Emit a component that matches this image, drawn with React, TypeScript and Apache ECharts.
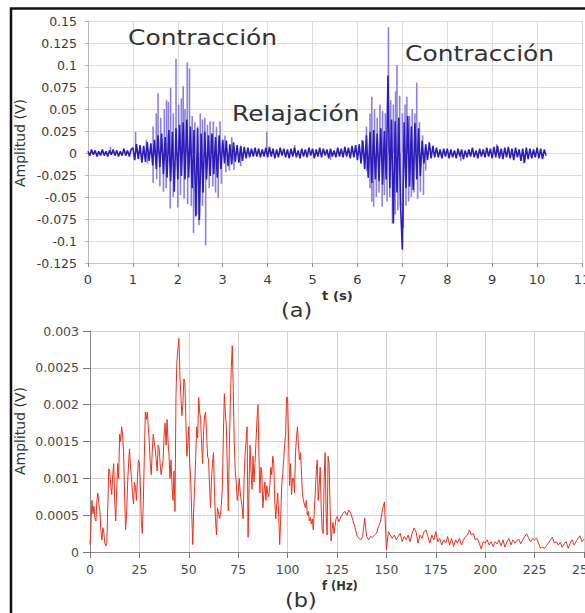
import { useEffect, useRef } from "react";
import * as echarts from "echarts";

const FONT = "DejaVu Sans";

// (a) EMG signal: sample interval in seconds, core trace values in mV
const DT = 0.04;
const emgCoreMv = [
  2, -3, 4, -2, 3, -4, 2, -3, 4, -3, 2, -4, 3, -2, 4, -3, 3, -4, 2, -3, 5, -3, 3, -4, 4,
  6, -8, 10, -7, 9, -11, 8, -10, 12, -9, 11, -14, 15, -18, 20, -16, 22, -24, 18, -28, 26, -32, 24, -44, 28,
  -30, 32, -26, 35, -30, 38, -28, 30, -40, 26, -72, 28, -76, 22, -45, 24, -30, 20, -26, 22, -24, 18, -28, 20, -18,
  15, -12, 14, -15, 10, -13, 12, -10, 9, -11, 8, -9, 7, -6, 6, -5, 5, -4, 6, -4, 5, -5, 4, -4, 6,
  -5, 7, -4, 5, -6, 4, -5, 6, -3, 5, -5, 4, -6, 5, -4, 6, -5, 3, -6, 5, -4, 4, -5, 6, -3,
  5, -6, 4, -4, 6, -5, 5, -3, 4, -6, 5, -4, 3, -5, 6, -4, 5, -5, 7, -4, 6, -6, 8, -5, 9,
  -8, 10, -12, 14, -18, 20, -28, 24, -34, 26, -30, 22, -32, 28, -36, 25, -30, 88, -40, 38, -80, 36, -45, 40, -60,
  -110, 35, -40, 42, -38, 30, -42, 34, -30, 28, -26, 14, -12, 10, -8, 12, -6, 8, -5, 6, -5, 4, -6, 5, -4,
  5, -6, 4, -5, 3, -6, 5, -4, 4, -7, 3, -5, 4, -4, 6, -5, 3, -6, 5, -4, 4, -5, 6, -4, 5,
  -6, 7, -5, 8, -6, 5, -7, 6, -5, 7, -6, 5, -8, 6, -5, 4, -9, 5, -11, 6, -7, 5, -6, 4, -5,
  6, -6, 5, -7, 4, -3,
];

// (a) lighter individual spikes: time (s) and peak (mV)
const spikeTimes = [
  0.5, 1.06, 1.3, 1.45, 1.52, 1.56, 1.62, 1.7, 1.75, 1.79, 1.84, 1.9, 1.96, 2.02, 2.08, 2.12, 2.16, 2.21, 2.26,
  2.32, 2.38, 2.44, 2.5, 2.55, 2.6, 2.66, 2.72, 2.79, 2.86, 2.94, 3.05, 3.2, 3.98,
  1.32, 1.45, 1.53, 1.6, 1.68, 1.74, 1.83, 1.9, 2.0, 2.06, 2.14, 2.22, 2.3, 2.35, 2.42, 2.47, 2.55, 2.62,
  2.7, 2.78, 2.84, 2.9, 2.97, 3.07, 3.15, 3.25, 3.4, 4.6, 5.4,
  6.1, 6.2, 6.28, 6.32, 6.38, 6.44, 6.5, 6.56, 6.62, 6.69, 6.74, 6.8, 6.85, 6.88, 6.94, 7.0, 7.06, 7.1,
  7.16, 7.22, 7.28, 7.32, 7.38, 7.45,
  6.2, 6.28, 6.32, 6.36, 6.42, 6.48, 6.55, 6.6, 6.66, 6.72, 6.78, 6.84, 6.9, 6.96, 7.02, 7.08, 7.14,
  7.2, 7.26, 7.34, 7.4, 7.47, 7.52, 8.3, 9.1, 9.7,
];
const spikeMv = [
  7, 24, 15, 30, 45, 68, 40, 50, 60, 58, 74, 45, 107, 55, 62, 76, 50, 103, 96,
  42, 35, 30, 45, 38, 40, 32, 36, 36, 30, 36, 20, 18, 24,
  -12, -34, -30, -38, -44, -40, -63, -50, -62, -48, -52, -58, -60, -91, -70, -82, -60, -105,
  -40, -38, -45, -51, -35, -22, -20, -19, -15, 9, -8,
  15, 30, 45, 64, 50, 40, 55, 48, 45, 143, 60, 55, 70, 100, 65, 45, 55, 64,
  42, 50, 45, 80, 35, 20,
  -20, -40, -55, -61, -50, -45, -61, -48, -55, -50, -80, -70, -65, -60, -85, -60, -55,
  -50, -45, -52, -44, -48, -20, -9, 10, -12,
];

// (b) amplitude spectrum in µV: 0–125 Hz every 0.5 Hz, then 126–250 Hz every 1 Hz
const SPEC_LOW_STEP = 0.5;
const spectrumLowUv = [
  100, 380, 700, 520, 620, 450, 420, 700, 800, 640,
  560, 300, 160, 330, 260, 120, 80, 120, 600, 1130,
  1100, 900, 780, 1050, 1200, 700, 420, 850, 1200, 1000,
  1600, 1500, 1700, 1600, 1350, 800, 300, 500, 900, 1200,
  1400, 1150, 1000, 800, 650, 950, 880, 700, 1000, 1250,
  1200, 900, 400, 250, 700, 1300, 1900, 1800, 1900, 1700,
  1500, 1200, 1050, 1350, 1600, 1500, 1400, 1250, 1100, 1450,
  1400, 1200, 1050, 1150, 1250, 1600, 1750, 1450, 1800, 1500,
  1300, 1000, 1250, 900, 700, 1100, 550, 2100, 2600, 2750,
  2900, 2400, 2100, 1850, 2000, 2350, 2300, 1800, 1300, 1450,
  1700, 1200, 950, 500, 100, 600, 900, 1300, 1700, 1550,
  2100, 1900, 1800, 1450, 1200, 1650, 1850, 1900, 1600, 1300,
  1250, 900, 600, 1000, 1200, 1350, 800, 450, 230, 600,
  550, 450, 500, 650, 900, 1600, 2150, 1900, 1700, 1100,
  560, 1400, 2000, 2500, 2800, 2200, 1500, 1100, 950, 700,
  800, 1000, 820, 700, 600, 450, 1000, 1350, 1500, 1700,
  200, 900, 1450, 1100, 850, 1300, 950, 1200, 1500, 1800,
  2000, 1300, 800, 1150, 1050, 600, 800, 950, 700, 900,
  800, 750, 900, 1150, 1050, 1300, 1200, 700, 450, 650,
  800, 500, 100, 450, 900, 1050, 1250, 1450, 1600, 2100,
  2100, 1500, 900, 1200, 780, 1000, 1000, 800, 1350, 1550,
  1700, 1450, 1250, 1350, 1100, 800, 700, 650, 600, 700,
  500, 550, 420, 470, 380, 450, 300, 550, 800, 1100,
  1250, 700, 900, 1150, 600, 300, 250, 1000, 1350, 500,
  230, 1300, 1200, 600, 150, 300, 400, 250, 350, 450,
  480,
];
const SPEC_HIGH_START = 126;
const spectrumHighUv = [
  410, 480, 525, 550,
  500, 570, 525, 430, 345, 230, 185, 165, 210, 460,
  210, 165, 210, 200, 230, 255, 345, 410, 570, 680,
  30, 275, 230, 185, 230, 165, 210, 255, 140, 210,
  165, 230, 140, 255, 325, 275, 120, 230, 185, 275,
  300, 210, 120, 230, 165, 275, 140, 185, 95, 165,
  120, 210, 95, 185, 75, 165, 120, 185, 95, 165,
  210, 230, 300, 230, 255, 165, 185, 120, 40, 140,
  120, 165, 95, 140, 75, 140, 110, 165, 85, 165,
  65, 140, 185, 95, 165, 120, 155, 175, 110, 165,
  210, 245, 185, 140, 180, 165, 190, 120, 50, 65,
  50, 85, 120, 165, 200, 120, 140, 95, 130, 65,
  110, 140, 50, 120, 165, 95, 140, 185, 220, 140,
  175,
];

export default function App() {
  const ref = useRef<HTMLDivElement>(null);

  useEffect(() => {
    if (!ref.current) return;
    document.documentElement.style.overflow = "hidden";
    document.body.style.margin = "0";
    document.body.style.overflow = "hidden";
    const chart = echarts.init(ref.current, null, { renderer: "svg", width: 585, height: 613 });
    const core = emgCoreMv.map((v, i) => [+(i * DT).toFixed(2), v / 1000]);
    const spikes = spikeTimes.map((t, i) => [t, spikeMv[i] / 1000]);
    const spec = [
      ...spectrumLowUv.map((v, i) => [i * SPEC_LOW_STEP, v / 1e6]),
      ...spectrumHighUv.map((v, i) => [SPEC_HIGH_START + i, v / 1e6]),
    ];

    const text = (
      t: string,
      x: number,
      y: number,
      size: number,
      opts: any = {}
    ) => ({
      type: "text",
      x,
      y,
      scaleX: opts.scaleX ?? 1,
      rotation: opts.rotation ?? 0,
      silent: true,
      z: 50,
      style: {
        text: t,
        fontSize: size,
        fontFamily: FONT,
        fontWeight: opts.bold ? "bold" : "normal",
        fill: opts.color ?? "#333",
        align: opts.align ?? "left",
        verticalAlign: "middle",
      },
    });

    chart.setOption({
      animation: false,
      backgroundColor: "#ffffff",
      grid: [
        { left: 88, top: 21, width: 494, height: 242, containLabel: false, outerBoundsMode: "none" },
        { left: 90, top: 331, width: 494, height: 221, containLabel: false, outerBoundsMode: "none" },
      ],
      xAxis: [
        {
          type: "value",
          gridIndex: 0,
          min: 0,
          max: 11,
          interval: 1,
          axisLine: { show: true, onZero: false, lineStyle: { color: "#c4c4c4" } },
          axisTick: { show: true, length: 4, lineStyle: { color: "#8a8a8a" } },
          axisLabel: { margin: 10, fontSize: 13, color: "#3a3a3a", fontFamily: FONT },
          splitLine: { show: true, lineStyle: { color: "#dcdcdc", width: 1 } },
        },
        {
          type: "value",
          gridIndex: 1,
          min: 0,
          max: 250,
          interval: 25,
          axisLine: { show: true, onZero: false, lineStyle: { color: "#8a8a8a" } },
          axisTick: { show: true, length: 6, lineStyle: { color: "#777" } },
          axisLabel: { margin: 11, fontSize: 12.5, color: "#4a4a4a", fontFamily: FONT },
          splitLine: { show: true, lineStyle: { color: "#d2d2d2", width: 1 } },
        },
      ],
      yAxis: [
        {
          type: "value",
          gridIndex: 0,
          min: -0.125,
          max: 0.15,
          interval: 0.025,
          axisLine: { show: true, lineStyle: { color: "#b8b8b8" } },
          axisTick: { show: true, length: 3, lineStyle: { color: "#b8b8b8" } },
          axisLabel: {
            margin: 11,
            fontSize: 12.5,
            color: "#3a3a3a",
            fontFamily: FONT,
            formatter: (v: number) => String(parseFloat(v.toFixed(3))),
          },
          splitLine: { show: true, lineStyle: { color: "#dcdcdc", width: 1 } },
        },
        {
          type: "value",
          gridIndex: 1,
          min: 0,
          max: 0.003,
          interval: 0.0005,
          axisLine: { show: true, lineStyle: { color: "#8a8a8a" } },
          axisTick: { show: true, length: 7, lineStyle: { color: "#777" } },
          axisLabel: {
            margin: 11,
            fontSize: 12.5,
            color: "#4a4a4a",
            fontFamily: FONT,
            formatter: (v: number) => String(parseFloat(v.toFixed(4))),
          },
          splitLine: { show: true, lineStyle: { color: "#d2d2d2", width: 1 } },
        },
      ],
      series: [
        {
          type: "bar",
          xAxisIndex: 0,
          yAxisIndex: 0,
          data: spikes,
          barWidth: 1.6,
          itemStyle: { color: "#8b80e2" },
          silent: true,
          z: 2,
        },
        {
          type: "line",
          xAxisIndex: 0,
          yAxisIndex: 0,
          data: core,
          symbol: "none",
          showSymbol: false,
          lineStyle: { color: "#2a1db8", width: 1.6 },
          silent: true,
          z: 3,
        },
        {
          type: "line",
          xAxisIndex: 1,
          yAxisIndex: 1,
          data: spec,
          symbol: "none",
          showSymbol: false,
          lineStyle: { color: "#e8331f", width: 1 },
          silent: true,
          z: 3,
        },
      ],
      graphic: [
        {
          type: "rect",
          silent: true,
          z: 100,
          shape: { x: 11, y: 8.5, width: 640, height: 660 },
          style: { fill: "none", stroke: "#111", lineWidth: 2.5 },
        },
        text("Contracción", 128, 37, 21.5, { scaleX: 1.16 }),
        text("Relajación", 232, 113, 21.5, { scaleX: 1.16 }),
        text("Contracción", 405, 53, 21.5, { scaleX: 1.16 }),
        text("t (s)", 322, 296, 12, { bold: true, scaleX: 1.1 }),
        text("(a)", 281, 311, 19, { scaleX: 1.18 }),
        text("f (Hz)", 322, 586, 11.5, { bold: true }),
        text("(b)", 285, 601, 19, { scaleX: 1.18 }),
        text("Amplitud (V)", 20, 143, 14, { rotation: Math.PI / 2, align: "center" }),
        text("Amplitud (V)", 20, 431, 14, { rotation: Math.PI / 2, align: "center" }),
      ],
    });

    return () => chart.dispose();
  }, []);

  return (
    <div
      ref={ref}
      style={{ position: "absolute", left: 0, top: 0, width: 585, height: 613 }}
    />
  );
}
